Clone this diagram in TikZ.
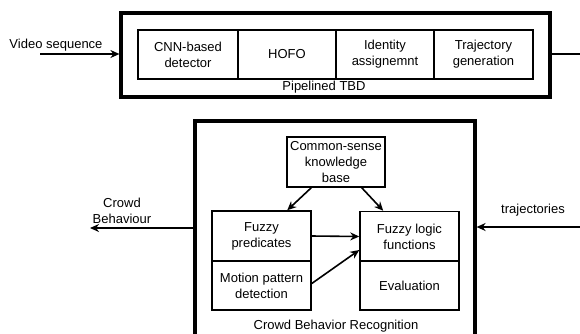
\documentclass[tikz,border=0pt]{standalone}
\usepackage{fontspec}
\setmainfont{Liberation Sans}
\usetikzlibrary{arrows.meta}
\begin{document}
\begin{tikzpicture}[x=1pt,y=-1pt,
  every node/.style={font=\fontsize{13}{16}\selectfont, inner sep=0pt},
  outerbox/.style={draw, line width=3.2pt, rectangle},
  stagebox/.style={draw, line width=1.5pt, rectangle, align=center, minimum height=49pt},
  flow/.style={line width=1.6pt, -{Stealth[length=9pt,width=8pt]}},
  plainline/.style={line width=1.6pt}]
  \useasboundingbox (0,0) rectangle (580,333);
  \clip (0,0) rectangle (580,333);

  % Pipelined tracking-by-detection block
  \node[outerbox, minimum width=429pt, minimum height=84pt] (tbd) at (335.5,55) {};
  \node[stagebox, minimum width=100pt] (cnn)  at (188,54.5)   {CNN-based\\detector};
  \node[stagebox, minimum width=98pt]  (hofo) at (287,54.5)   {HOFO};
  \node[stagebox, minimum width=98pt]  (ida)  at (385,54.5)   {Identity\\assignemnt};
  \node[stagebox, minimum width=99pt]  (trg)  at (483.5,54.5) {Trajectory\\generation};
  \node (tbdlabel) at (324,87.5) {Pipelined TBD};

  % Crowd behaviour recognition block
  \node[outerbox, minimum width=280pt, minimum height=230pt] (cbr) at (335,236) {};
  \node[stagebox, minimum width=98pt, minimum height=50pt] (csk) at (336,162) {Common-sense\\knowledge\\base};
  \node[stagebox, minimum width=99pt, minimum height=50pt] (fp)  at (261.5,236) {Fuzzy\\predicates};
  \node[stagebox, minimum width=99pt] (mp)  at (261.5,285.5) {Motion pattern\\detection};
  \node[stagebox, minimum width=99pt, minimum height=50pt] (fl)  at (409.5,236.5) {Fuzzy logic\\functions};
  \node[stagebox, minimum width=99pt] (ev)  at (409.5,285.5) {Evaluation};
  \node (cbrlabel) at (336,326) {Crowd Behavior Recognition};

  % Free ends of the external connectors
  \coordinate (vin)  at (40,54);
  \coordinate (tout) at (580,54);
  \coordinate (cout) at (90,228);
  \coordinate (trin) at (580,227);

  % External connectors and their labels
  \draw[flow] (vin) -- (tbd.west |- vin);
  \node (vlabel) at (56,45) {Video sequence};
  \draw[plainline] (tbd.east |- tout) -- (tout);
  \draw[flow] (cbr.west |- cout) -- (cout);
  \node[align=center] (clabel) at (122,210.5) {Crowd\\Behaviour};
  \draw[flow] (trin) -- (cbr.east |- trin);
  \node (tlabel) at (533,210) {trajectories};

  % Internal connectors
  \draw[flow] ([xshift=25pt]csk.south west) -- ([xshift=76pt]fp.north west);
  \draw[flow] ([xshift=-24pt]csk.south east) -- ([xshift=24pt]fl.north west);
  \draw[flow] (fp.east) -- (fl.west);
  \draw[flow] ([yshift=2pt]mp.east) -- ([yshift=-13.5pt]fl.west);
\end{tikzpicture}
\end{document}
